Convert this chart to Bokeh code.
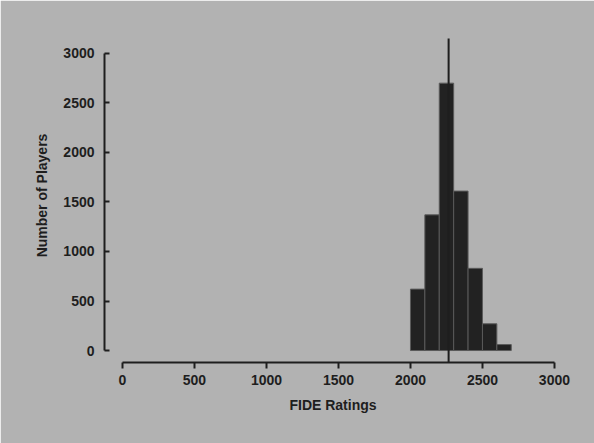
from bokeh.plotting import figure
from bokeh.models import FixedTicker, Range1d
from bokeh.embed import file_html
from bokeh.resources import INLINE

# Histogram of FIDE ratings (bins of 100 points)
bin_left = [2000, 2100, 2200, 2300, 2400, 2500, 2600]
bin_right = [2100, 2200, 2300, 2400, 2500, 2600, 2700]
players = [620, 1370, 2700, 1610, 830, 270, 60]
mean_rating = 2265
mean_line_top = 3150
x_ticks = [0, 500, 1000, 1500, 2000, 2500, 3000]
y_ticks = [0, 500, 1000, 1500, 2000, 2500, 3000]

BG = "#b2b2b2"
INK = "#1e1e1e"
FONT = "Liberation Sans"

p = figure(width=594, height=443, output_backend="svg", toolbar_location=None,
           x_range=Range1d(-125, 3049), y_range=Range1d(-121, 3252),
           min_border_left=104, min_border_right=33, min_border_top=28,
           min_border_bottom=81)
p.background_fill_color = BG
p.border_fill_color = BG
p.outline_line_color = BG
p.outline_line_width = 2
p.grid.visible = False

p.quad(left=bin_left, right=bin_right, top=players, bottom=0,
       fill_color="#222222", line_color="#5a5a5a", line_width=1)
p.segment(x0=[mean_rating], y0=[-121], x1=[mean_rating], y1=[mean_line_top],
          line_color=INK, line_width=2)

for ax in (p.xaxis[0], p.yaxis[0]):
    ax.bounds = (0, 3000)
    ax.axis_line_color = INK
    ax.axis_line_width = 2
    ax.major_tick_line_color = INK
    ax.major_tick_line_width = 2
    ax.minor_tick_line_color = None
    ax.major_label_text_font = FONT
    ax.major_label_text_font_size = "14px"
    ax.major_label_text_font_style = "bold"
    ax.major_label_text_color = INK
    ax.axis_label_text_font = FONT
    ax.axis_label_text_font_size = "14px"
    ax.axis_label_text_font_style = "bold"
    ax.axis_label_text_color = INK

p.xaxis.ticker = FixedTicker(ticks=x_ticks)
p.yaxis.ticker = FixedTicker(ticks=y_ticks)
p.xaxis.axis_label = "FIDE Ratings"
p.yaxis.axis_label = "Number of Players"

p.xaxis.major_tick_in = 0
p.xaxis.major_tick_out = 6
p.xaxis.major_label_standoff = 6
p.xaxis.axis_label_standoff = 9

p.yaxis.major_tick_in = 5
p.yaxis.major_tick_out = 0
p.yaxis.major_label_standoff = 10
p.yaxis.axis_label_standoff = 10

open("out.html", "w").write(file_html(p, INLINE))
